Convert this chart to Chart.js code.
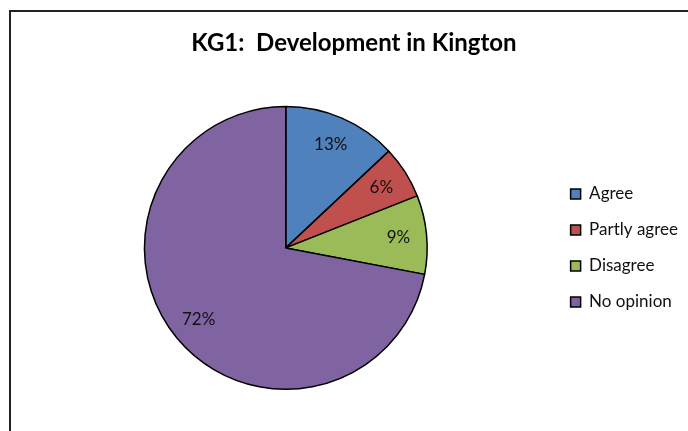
<!DOCTYPE html>
<html>
<head>
<meta charset="utf-8">
<script src="https://cdn.jsdelivr.net/npm/chart.js@4.4.0/dist/chart.umd.min.js"></script>
<style>
  html, body { margin: 0; padding: 0; background: #fff; overflow: hidden; }
  #frame { position: absolute; left: 9px; top: 10px; width: 700px; height: 440px;
           border-left: 2px solid #222; border-top: 2px solid #222; }
  #wrap { position: absolute; left: 0; top: 0; width: 688px; height: 431px; }
</style>
</head>
<body>
<div id="frame"></div>
<div id="wrap"><canvas id="grafico"></canvas></div>
<script>
// dados
const categorias = ['Agree', 'Partly agree', 'Disagree', 'No opinion'];
const valores = [13, 6, 9, 72];
const cores = ['#4F81BD', '#C0504D', '#9BBB59', '#8064A2'];

// rótulos de porcentagem dentro das fatias
const rotulosPct = {
  id: 'rotulosPct',
  afterDatasetsDraw(chart) {
    const ctx = chart.ctx;
    const meta = chart.getDatasetMeta(0);
    ctx.save();
    ctx.font = '17px Lato, "DejaVu Sans", sans-serif';
    ctx.fillStyle = '#111';
    ctx.textAlign = 'center';
    ctx.textBaseline = 'middle';
    meta.data.forEach((arc, i) => {
      const p = arc.getProps(['x', 'y', 'startAngle', 'endAngle', 'outerRadius'], true);
      const ang = (p.startAngle + p.endAngle) / 2;
      const r = p.outerRadius * 0.8;
      ctx.fillText(valores[i] + '%', p.x + Math.cos(ang) * r, p.y + Math.sin(ang) * r);
    });
    ctx.restore();
  }
};

const ctxPizza = document.getElementById('grafico').getContext('2d');
const graficoPizza = new Chart(ctxPizza, {
  type: 'pie',
  data: {
    labels: categorias,
    datasets: [{
      data: valores,
      backgroundColor: cores,
      borderColor: '#000',
      borderWidth: 1.5
    }]
  },
  options: {
    responsive: true,
    maintainAspectRatio: false,
    animation: false,
    layout: { padding: { left: 20, top: 10, bottom: 41, right: 0 } },
    plugins: {
      title: {
        display: true,
        text: 'KG1:  Development in Kington',
        color: '#000',
        font: { family: 'Lato, "DejaVu Sans", sans-serif', size: 24, weight: 'bold' },
        padding: { top: 19, bottom: 48 }
      },
      legend: {
        position: 'right',
        fullSize: false,
        labels: {
          color: '#111',
          font: { family: 'Lato, "DejaVu Sans", sans-serif', size: 17 },
          boxWidth: 10,
          boxHeight: 10,
          padding: 19
        }
      },
      tooltip: { enabled: false }
    }
  },
  plugins: [rotulosPct]
});
</script>
</body>
</html>
